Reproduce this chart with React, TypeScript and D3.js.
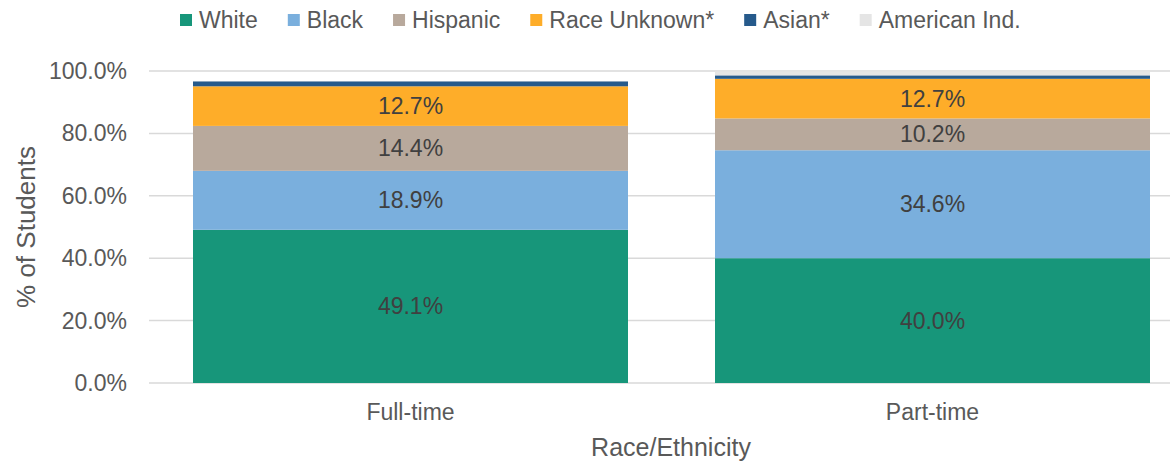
import { useEffect, useRef } from 'react';
import * as d3 from 'd3';

const categories = ['Full-time', 'Part-time'];
const seriesNames = ['White', 'Black', 'Hispanic', 'Race Unknown*', 'Asian*', 'American Ind.'];
const white = [49.1, 40.0];
const black = [18.9, 34.6];
const hispanic = [14.4, 10.2];
const raceUnknown = [12.7, 12.7];
const asian = [1.6, 1.1];
const americanInd = [0.1, 1.2];
const yTicks = [0, 20, 40, 60, 80, 100];
const colors = ['#17967a', '#7aafdd', '#b8a99c', '#fead29', '#265a8b', '#e5e5e5'];
const labelled = [true, true, true, true, false, false];

export default function App() {
  const ref = useRef<SVGSVGElement | null>(null);

  useEffect(() => {
    if (!ref.current) return;
    const W = 1176, H = 463;
    const font = '"Liberation Sans", Arial, sans-serif';
    const svg = d3.select(ref.current).attr('width', W).attr('height', H);
    svg.selectAll('*').remove();

    const values = [white, black, hispanic, raceUnknown, asian, americanInd];
    const rows = categories.map((c, i) => {
      const r: any = { cat: c };
      seriesNames.forEach((s, j) => { r[s] = values[j][i]; });
      return r;
    });
    const stacked = d3.stack<any>().keys(seriesNames)(rows);

    const x = d3.scaleBand().domain(categories).range([193, 1150]).paddingInner(0.1667).paddingOuter(0);
    const y = d3.scaleLinear().domain([0, 100]).range([383, 71]);
    const plotL = 149, plotR = 1170;

    // gridlines
    svg.append('g').selectAll('line').data(yTicks).join('line')
      .attr('x1', plotL).attr('x2', plotR)
      .attr('y1', d => y(d)).attr('y2', d => y(d))
      .attr('stroke', '#d9d9d9').attr('stroke-width', 1.5);

    svg.append('g').selectAll('text').data(yTicks).join('text')
      .attr('x', 127).attr('y', d => y(d)).attr('text-anchor', 'end')
      .attr('dominant-baseline', 'central')
      .attr('font-family', font).attr('font-size', 23).attr('fill', '#595959')
      .text(d => d3.format('.1f')(d) + '%');

    // bars
    stacked.forEach((layer, j) => {
      const g = svg.append('g');
      g.selectAll('rect').data(layer).join('rect')
        .attr('x', d => x(d.data.cat)!)
        .attr('width', x.bandwidth())
        .attr('y', d => y(d[1]))
        .attr('height', d => y(d[0]) - y(d[1]))
        .attr('fill', colors[j]);
      if (labelled[j]) {
        g.selectAll('text').data(layer).join('text')
          .attr('x', d => x(d.data.cat)! + x.bandwidth() / 2)
          .attr('y', d => (y(d[0]) + y(d[1])) / 2)
          .attr('text-anchor', 'middle').attr('dominant-baseline', 'central')
          .attr('font-family', font).attr('font-size', 23).attr('fill', '#404040')
          .text(d => d3.format('.1f')(d[1] - d[0]) + '%');
      }
    });

    // category labels
    svg.append('g').selectAll('text').data(categories).join('text')
      .attr('x', d => x(d)! + x.bandwidth() / 2).attr('y', 412)
      .attr('text-anchor', 'middle').attr('dominant-baseline', 'central')
      .attr('font-family', font).attr('font-size', 23).attr('fill', '#595959')
      .text(d => d);

    svg.append('text').attr('x', 671).attr('y', 447)
      .attr('text-anchor', 'middle').attr('dominant-baseline', 'central')
      .attr('font-family', font).attr('font-size', 25).attr('fill', '#595959')
      .text('Race/Ethnicity');

    svg.append('text').attr('transform', 'translate(26,227) rotate(-90)')
      .attr('text-anchor', 'middle').attr('dominant-baseline', 'central')
      .attr('font-family', font).attr('font-size', 26).attr('fill', '#595959')
      .text('% of Students');

    // legend
    const lg = svg.append('g');
    let lx = 180;
    seriesNames.forEach((s, j) => {
      lg.append('rect').attr('x', lx).attr('y', 14).attr('width', 12).attr('height', 12).attr('fill', colors[j]);
      const t = lg.append('text').attr('x', lx + 19).attr('y', 20)
        .attr('dominant-baseline', 'central')
        .attr('font-family', font).attr('font-size', 23).attr('fill', '#595959')
        .text(s);
      const w = (t.node() as SVGTextElement).getComputedTextLength();
      lx += 19 + w + 30;
    });
  }, []);

  return (
    <div style={{ position: 'absolute', left: 0, top: 0 }}>
      <svg ref={ref} style={{ display: 'block' }} />
    </div>
  );
}
